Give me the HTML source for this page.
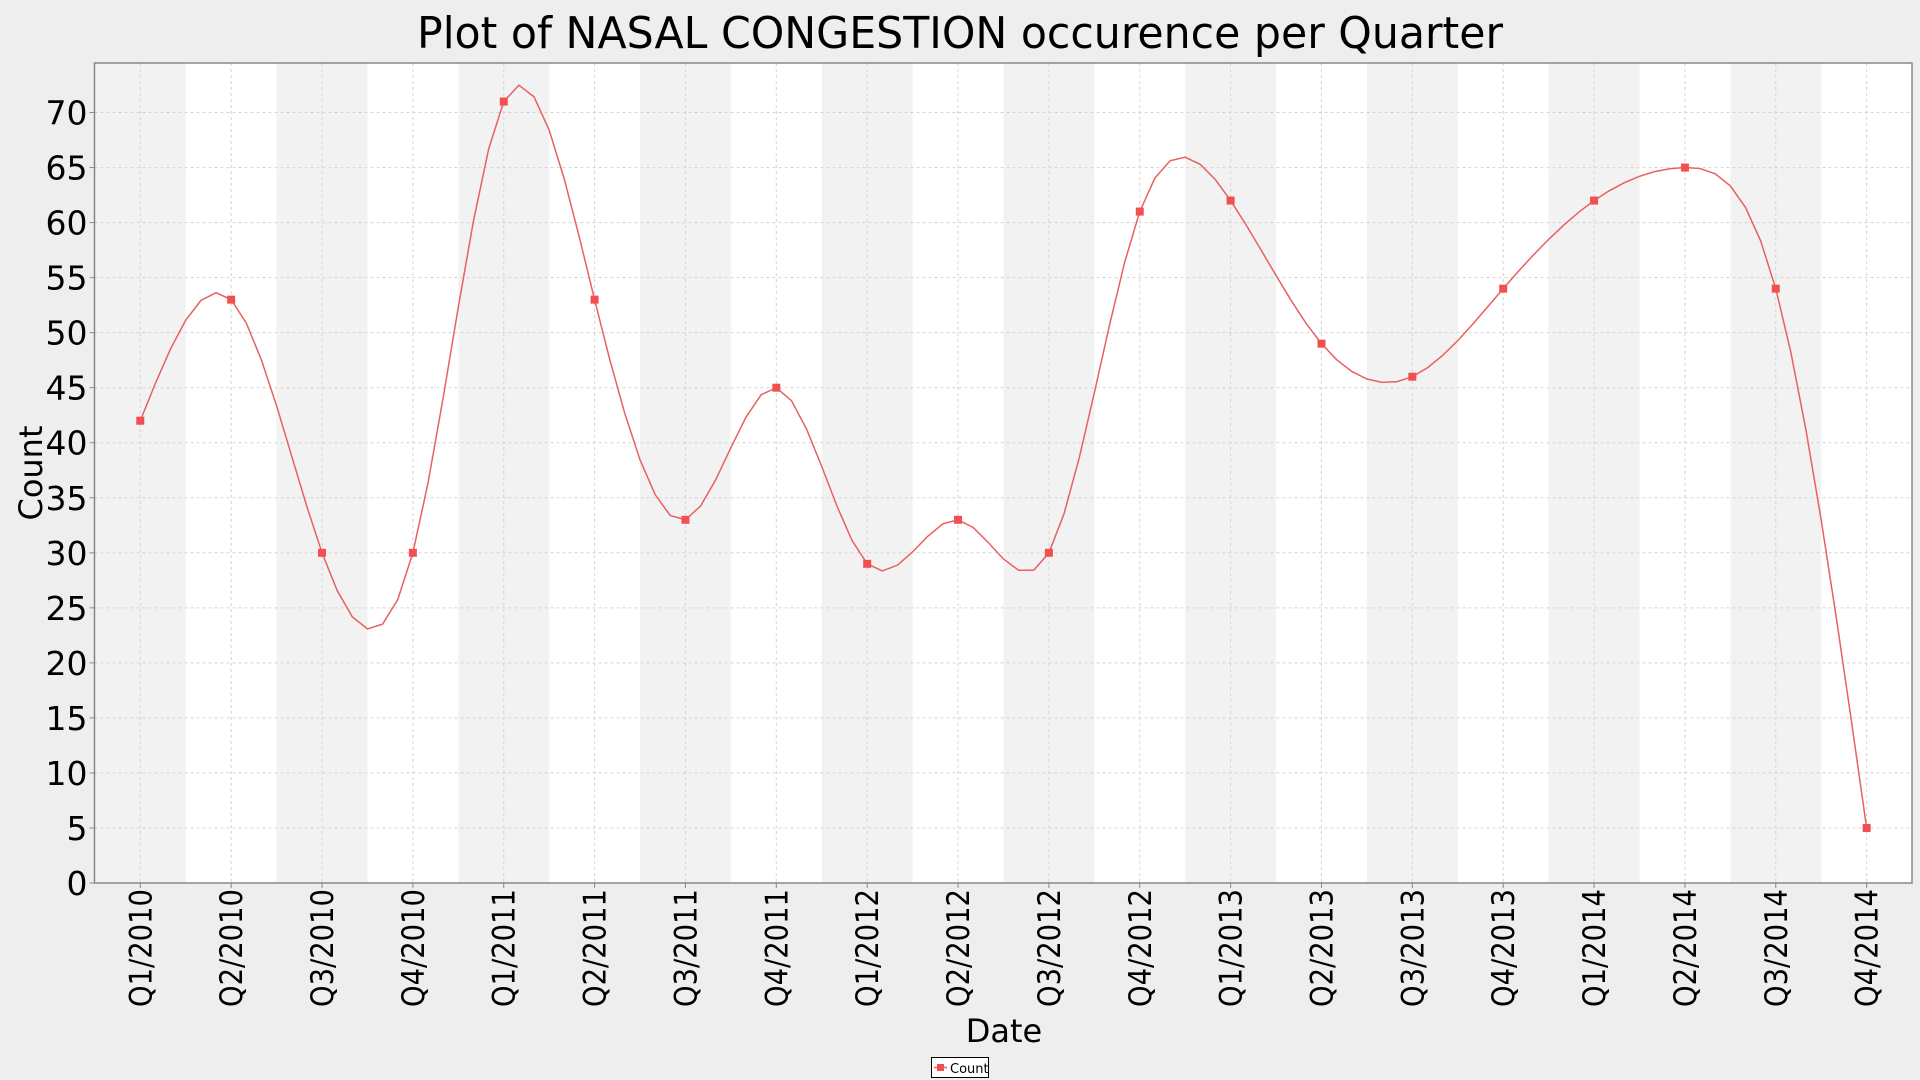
<!DOCTYPE html>
<html><head><meta charset="utf-8"><style>
html,body{margin:0;padding:0;background:#eeeeee;}
svg{display:block;font-family:"DejaVu Sans","Liberation Sans",sans-serif;}
</style></head><body>
<svg id="chart" width="1920" height="1080" viewBox="0 0 1920 1080">
<rect x="0" y="0" width="1920" height="1080" fill="#eeeeee"/>
<text x="960" y="48" font-size="44" text-anchor="middle" textLength="1086" lengthAdjust="spacingAndGlyphs" fill="#000">Plot of NASAL CONGESTION occurence per Quarter</text>
<g id="plot"></g>
<text x="1004" y="1042" font-size="32" text-anchor="middle" fill="#000">Date</text>
<text transform="translate(42,473) rotate(-90)" font-size="32" text-anchor="middle" fill="#000">Count</text>
<g>
<rect x="931.5" y="1057.5" width="57" height="20" fill="#fff" stroke="#000" stroke-width="1"/>
<line x1="934" y1="1067.5" x2="947" y2="1067.5" stroke="#e86060" stroke-width="1.5"/>
<rect x="937" y="1064" width="7" height="7" fill="#f05050"/>
<text x="950" y="1073" font-size="13" fill="#000">Count</text>
</g>
</svg>
<script>
const categories = ["Q1/2010","Q2/2010","Q3/2010","Q4/2010","Q1/2011","Q2/2011","Q3/2011","Q4/2011","Q1/2012","Q2/2012","Q3/2012","Q4/2012","Q1/2013","Q2/2013","Q3/2013","Q4/2013","Q1/2014","Q2/2014","Q3/2014","Q4/2014"];
const counts = [42,53,30,30,71,53,33,45,29,33,30,61,62,49,46,54,62,65,54,5];
const yTicks = [0,5,10,15,20,25,30,35,40,45,50,55,60,65,70];

const NS = "http://www.w3.org/2000/svg";
const L = 94.5, R = 1912, T = 63, B = 883;
const yMax = 74.5;
const x0 = 140.3, step = 90.86;
function xs(i){ return x0 + i*step; }
function ys(v){ return B - (v/yMax)*(B-T); }
const g = document.getElementById('plot');
function mk(tag, attrs){ const e=document.createElementNS(NS,tag); for(const k in attrs) e.setAttribute(k,attrs[k]); return e; }

const bg = mk('rect',{x:L,y:T,width:R-L,height:B-T,fill:'#ffffff'});


g.appendChild(bg);
categories.forEach((c,i)=>{
  if(i%2===0){
    const a = Math.max(L, xs(i)-step/2), b = Math.min(R, xs(i)+step/2);
    const band = mk('rect',{x:a,y:T,width:b-a,height:B-T,fill:'#f2f2f2'});
    
    
    g.appendChild(band);
  }
});
yTicks.forEach(v=>{
  const ln = mk('line',{x1:L,x2:R,y1:ys(v),y2:ys(v),stroke:'#d4d4d4','stroke-width':1,'stroke-dasharray':'3,3'});
  
  
  g.appendChild(ln);
  const tk = mk('line',{x1:L-5,x2:L,y1:ys(v),y2:ys(v),stroke:'#888','stroke-width':1});
  
  
  g.appendChild(tk);
  const t = mk('text',{x:L-7,y:ys(v)+12,'font-size':33,'text-anchor':'end',fill:'#000'});
  t.textContent = v;
  
  
  g.appendChild(t);
});
categories.forEach((c,i)=>{
  const ln = mk('line',{x1:xs(i),x2:xs(i),y1:T,y2:B,stroke:'#d4d4d4','stroke-width':1,'stroke-dasharray':'3,3'});
  
  
  g.appendChild(ln);
  const tk = mk('line',{x1:xs(i),x2:xs(i),y1:B,y2:B+5,stroke:'#888','stroke-width':1});
  
  
  g.appendChild(tk);
  const t = mk('text',{transform:`translate(${xs(i)+11},${B+6}) rotate(-90)`,'font-size':31,'text-anchor':'end',fill:'#000',textLength:118,lengthAdjust:'spacingAndGlyphs'});
  t.textContent = c;
  
  
  g.appendChild(t);
});
const ax = mk('path',{d:`M${L},${T} L${L},${B} L${R},${B} L${R},${T} Z`,fill:'none',stroke:'#888','stroke-width':1.5});


g.appendChild(ax);

// natural cubic spline (uniform spacing)
const n = counts.length;
const M = new Array(n).fill(0);
{
  const a=new Array(n).fill(0), b=new Array(n).fill(0), c=new Array(n).fill(0), r=new Array(n).fill(0);
  b[0]=1; b[n-1]=1;
  for(let i=1;i<n-1;i++){ a[i]=1; b[i]=4; c[i]=1; r[i]=6*(counts[i-1]-2*counts[i]+counts[i+1]); }
  for(let i=1;i<n;i++){ const m=a[i]/b[i-1]; b[i]-=m*c[i-1]; r[i]-=m*r[i-1]; }
  M[n-1]=r[n-1]/b[n-1];
  for(let i=n-2;i>=0;i--) M[i]=(r[i]-c[i]*M[i+1])/b[i];
}
let d = `M${xs(0)},${ys(counts[0])}`;
const N = 6;
for(let i=0;i<n-1;i++){
  for(let k=1;k<=N;k++){
    const t=k/N, u=1-t;
    const v = u*counts[i]+t*counts[i+1] + ((u*u*u-u)*M[i]+(t*t*t-t)*M[i+1])/6;
    d += ` L${(xs(i)+t*step).toFixed(2)},${ys(v).toFixed(2)}`;
  }
}
const line = mk('path',{d:d,fill:'none',stroke:'#e86060','stroke-width':1.5});


g.appendChild(line);
counts.forEach((v,i)=>{
  const m = mk('rect',{x:xs(i)-4,y:ys(v)-4,width:8,height:8,fill:'#f05050'});
  
  
  g.appendChild(m);
});
</script>
</body></html>
